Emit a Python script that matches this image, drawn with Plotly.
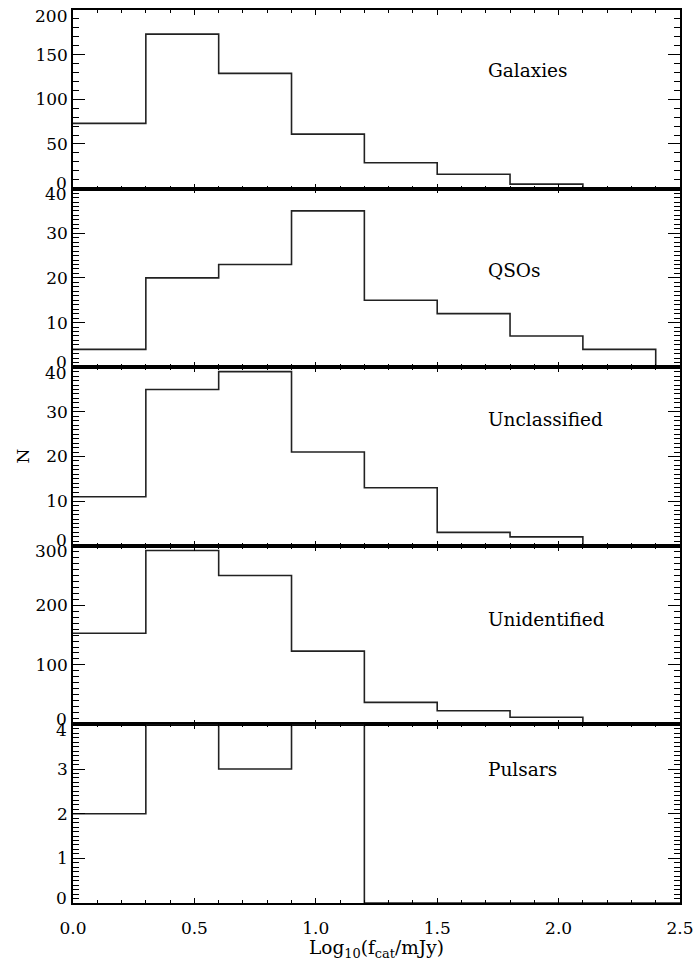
import plotly.graph_objects as go
from plotly.subplots import make_subplots

# ---- data ----
bin_edges = [0.0, 0.3, 0.6, 0.9, 1.2, 1.5, 1.8, 2.1, 2.4]
galaxies = [73, 173, 129, 61, 29, 16, 5, 1]
qsos = [4, 20, 23, 35, 15, 12, 7, 4]
unclassified = [11, 35, 39, 21, 13, 3, 2, 0]
unidentified = [153, 292, 250, 123, 37, 23, 12, 0]
pulsars = [2, 4, 3, 4, 0, 0, 0, 0]
panel_names = ["Galaxies", "QSOs", "Unclassified", "Unidentified", "Pulsars"]
galaxies_yticks = [0, 50, 100, 150, 200]
qsos_yticks = [0, 10, 20, 30, 40]
unclassified_yticks = [0, 10, 20, 30, 40]
unidentified_yticks = [0, 100, 200, 300]
pulsars_yticks = [0, 1, 2, 3, 4]
y_minor = [10, 1, 1, 10, 0.1]
x_tickvals = [0.0, 0.5, 1.0, 1.5, 2.0, 2.5]
x_ticktext = ["0.0", "0.5", "1.0", "1.5", "2.0", "2.5"]

series = [galaxies, qsos, unclassified, unidentified, pulsars]
yticks_all = [galaxies_yticks, qsos_yticks, unclassified_yticks, unidentified_yticks, pulsars_yticks]
label_pos_y = [0.66, 0.54, 0.705, 0.59, 0.75]

FONT = "DejaVu Serif"
TICKSIZE = 17
fig = make_subplots(rows=5, cols=1, shared_xaxes=True, vertical_spacing=0)

for i, counts in enumerate(series):
    r = i + 1
    xs = bin_edges + [2.7]
    ys = counts + [0, 0]
    yt = yticks_all[i]
    lo, hi = yt[0], yt[-1]
    fig.add_trace(go.Scatter(x=xs, y=ys, mode="lines", line=dict(shape="hv", color="#222222", width=1.6),
                             showlegend=False, hoverinfo="skip"), row=r, col=1)
    inner = yt[1:-1]
    fig.update_yaxes(range=[lo, hi], tickmode="array", tickvals=yt, ticktext=[""] + [str(v) for v in inner] + [""],
                     ticks="inside", ticklen=12, tickwidth=1.4,
                     tickcolor="black", showline=True, linecolor="black", linewidth=1.5, mirror="allticks",
                     showgrid=False, zeroline=False, automargin=False, ticklabeloverflow="allow",
                     minor=dict(dtick=y_minor[i], tick0=0, ticks="inside", ticklen=6, tickwidth=1.2, tickcolor="black", showgrid=False),
                     tickfont=dict(family=FONT, size=TICKSIZE, color="black"), row=r, col=1)
    fig.update_xaxes(range=[0, 2.5], tickvals=x_tickvals, ticktext=x_ticktext, ticks="inside", ticklen=5, tickwidth=1.4,
                     tickcolor="black", showline=True, linecolor="black", linewidth=1.5, mirror="allticks",
                     showgrid=False, zeroline=False, automargin=False, ticklabeloverflow="allow",
                     minor=dict(dtick=0.1, tick0=0, ticks="inside", ticklen=3, tickwidth=1.2, tickcolor="black", showgrid=False),
                     tickfont=dict(family=FONT, size=TICKSIZE, color="black"), row=r, col=1)
    xref = "x" if r == 1 else f"x{r}"
    yref_dom = "y domain" if r == 1 else f"y{r} domain"
    yref = "y" if r == 1 else f"y{r}"
    fig.add_annotation(x=1.7, y=label_pos_y[i], xref=xref, yref=yref_dom, text=panel_names[i], showarrow=False,
                       xanchor="left", yanchor="middle", font=dict(family=FONT, size=18.5, color="black"))
    # end-of-axis tick labels, nudged inside the panel as in the original
    for val, shift in [(lo, 5.5), (hi, -5.5)]:
        fig.add_annotation(x=0, y=val, xref="paper", yref=yref, text=str(val), showarrow=False,
                           xanchor="right", yanchor="middle", xshift=-4, yshift=shift,
                           font=dict(family=FONT, size=TICKSIZE, color="black"))

fig.update_xaxes(ticklabelstandoff=9, row=5, col=1)

fig.add_annotation(x=0.5, y=-0.051, xref="paper", yref="paper",
                   text="Log<sub>10</sub>(f<sub>cat</sub>/mJy)", showarrow=False,
                   xanchor="center", yanchor="middle", font=dict(family=FONT, size=18.5, color="black"))
fig.add_annotation(x=-0.084, y=0.5, xref="paper", yref="paper", text="N", textangle=-90, showarrow=False,
                   xanchor="center", yanchor="middle", font=dict(family=FONT, size=17, color="black"))

fig.update_layout(width=694, height=960, margin=dict(l=73, r=14, t=10, b=57),
                  plot_bgcolor="white", paper_bgcolor="white")

fig.write_html("out.html")
